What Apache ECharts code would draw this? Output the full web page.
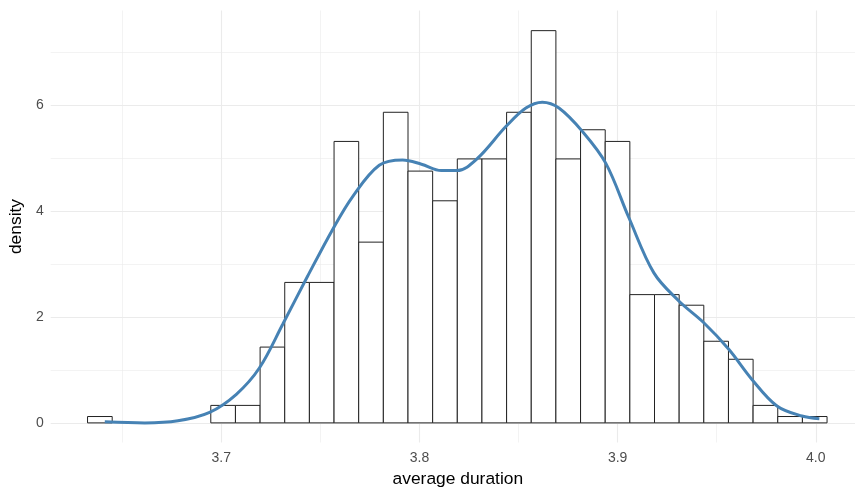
<!DOCTYPE html>
<html>
<head>
<meta charset="utf-8">
<script src="https://cdn.jsdelivr.net/npm/echarts@6/dist/echarts.min.js"></script>
<style>
  html, body { margin: 0; padding: 0; background: #fff; }
  #chart { width: 855px; height: 494px; }
</style>
</head>
<body>
<div id="chart"></div>
<script>
// histogram bins (30 bins), density per bin
const binStart = 3.6325;
const binWidth = 0.01244;
const binDensity = [0.12, 0, 0, 0, 0, 0.33, 0.33, 1.43, 2.65, 2.65,
  5.31, 3.41, 5.86, 4.75, 4.19, 4.98, 4.98, 5.86, 7.40, 4.98,
  5.53, 5.31, 2.42, 2.42, 2.22, 1.54, 1.20, 0.33, 0.12, 0.12];

// kernel density estimate
const densX = [3.6412, 3.6614, 3.6781, 3.6941, 3.7076, 3.7193, 3.7310, 3.7436, 3.7562,
  3.7663, 3.7797, 3.7915, 3.8010, 3.8110, 3.8190, 3.8290, 3.8436, 3.8537, 3.8620,
  3.8704, 3.8822, 3.8940, 3.9057, 3.9183, 3.9309, 3.9435, 3.9561, 3.9678, 3.9804,
  3.9930, 4.0018];
const densY = [0.02, 0.0, 0.04, 0.20, 0.54, 1.04, 1.86, 2.77, 3.65,
  4.27, 4.86, 4.96, 4.88, 4.76, 4.76, 4.98, 5.59, 5.94, 6.05,
  5.94, 5.50, 4.90, 3.87, 2.83, 2.30, 1.89, 1.39, 0.82, 0.32,
  0.13, 0.08];

// axes
const xMajor = [3.7, 3.8, 3.9, 4.0];
const xMinor = [3.65, 3.75, 3.85, 3.95];
const yMajor = [0, 2, 4, 6];
const yMinor = [1, 3, 5, 7];

const chart = echarts.init(document.getElementById('chart'));

const bars = binDensity
  .map((d, i) => [binStart + i * binWidth, binStart + (i + 1) * binWidth, d])
  .filter(b => b[2] > 0);

const gridLines = [
  ...xMajor.map(v => ({ xAxis: v, lineStyle: { width: 1.1 } })),
  ...xMinor.map(v => ({ xAxis: v, lineStyle: { width: 0.6 } })),
  ...yMajor.map(v => ({ yAxis: v, lineStyle: { width: 1.1 } })),
  ...yMinor.map(v => ({ yAxis: v, lineStyle: { width: 0.6 } }))
];

const option = {
  animation: false,
  textStyle: { fontFamily: 'Arial, "Liberation Sans", sans-serif' },
  grid: { left: 49.3, right: 0, top: 10.5, bottom: 51.5 },
  xAxis: {
    type: 'value',
    min: 3.6139,
    max: 4.0198,
    name: 'average duration',
    nameLocation: 'middle',
    nameGap: 27,
    nameTextStyle: { color: '#000', fontSize: 17.4, padding: [0, 0, 0, 10] },
    axisLine: { show: false },
    axisTick: { show: false },
    splitLine: { show: false },
    axisLabel: {
      customValues: xMajor,
      formatter: v => v.toFixed(1),
      color: '#4D4D4D',
      fontSize: 14,
      margin: 9
    }
  },
  yAxis: {
    type: 'value',
    min: -0.37,
    max: 7.78,
    name: 'density',
    nameLocation: 'middle',
    nameRotate: 90,
    nameGap: 20,
    nameTextStyle: { color: '#000', fontSize: 17.4 },
    axisLine: { show: false },
    axisTick: { show: false },
    splitLine: { show: false },
    axisLabel: {
      customValues: yMajor,
      formatter: v => String(v),
      color: '#4D4D4D',
      fontSize: 14,
      margin: 7
    }
  },
  series: [
    {
      name: 'grid',
      type: 'line',
      data: [],
      z: 0,
      silent: true,
      markLine: {
        z: 0,
        silent: true,
        symbol: 'none',
        label: { show: false },
        lineStyle: { color: '#EBEBEB', type: 'solid' },
        data: gridLines
      }
    },
    {
      name: 'histogram',
      type: 'custom',
      z: 2,
      data: bars,
      renderItem: (params, api) => {
        const p0 = api.coord([api.value(0), api.value(2)]);
        const p1 = api.coord([api.value(1), 0]);
        return {
          type: 'rect',
          shape: { x: p0[0], y: p0[1], width: p1[0] - p0[0], height: p1[1] - p0[1] },
          style: { fill: '#fff', stroke: '#222', lineWidth: 1 }
        };
      }
    },
    {
      name: 'density',
      type: 'line',
      z: 3,
      smooth: 0.35,
      showSymbol: false,
      data: densX.map((x, i) => [x, densY[i]]),
      lineStyle: { color: '#4682B4', width: 3 }
    }
  ]
};

chart.setOption(option);
</script>
</body>
</html>
